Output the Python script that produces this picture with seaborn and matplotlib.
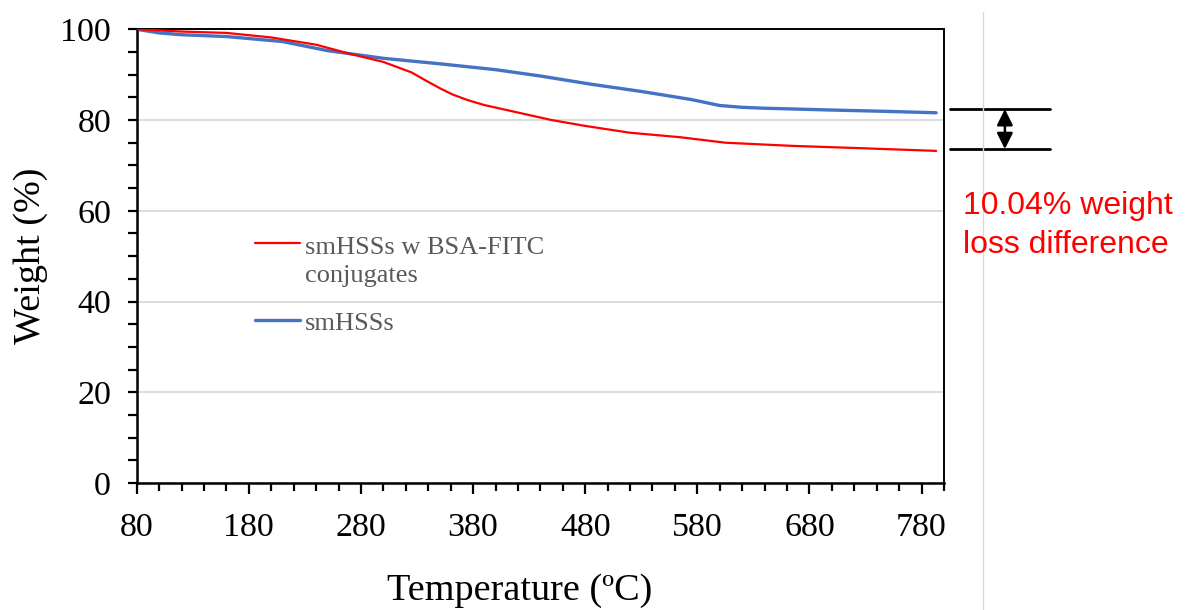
import matplotlib
matplotlib.use("Agg")
import matplotlib.pyplot as plt
import matplotlib.transforms as mtransforms
from matplotlib.lines import Line2D
from matplotlib.ticker import MultipleLocator
import pandas as pd
import seaborn as sns

# TGA curves
conj_temp = [80, 120, 160, 200, 240, 270, 300, 325, 340, 352, 362, 375, 390, 410, 450, 480, 520, 565, 605, 665, 725, 793]
conj_wt = [100, 99.5, 99.2, 98.2, 96.6, 94.6, 92.8, 90.5, 88.4, 86.8, 85.6, 84.4, 83.3, 82.2, 80.0, 78.7, 77.2, 76.2, 75.0, 74.3, 73.8, 73.2]

bare_temp = [80, 100, 120, 160, 210, 250, 300, 350, 400, 440, 485, 530, 575, 600, 620, 640, 700, 750, 793]
bare_wt = [100, 99.2, 98.8, 98.4, 97.3, 95.3, 93.6, 92.4, 91.1, 89.7, 87.9, 86.3, 84.5, 83.2, 82.8, 82.6, 82.2, 81.9, 81.6]

labels = ["smHSSs w BSA-FITC\nconjugates", "smHSSs"]
gap_levels = [82.4, 73.6]
gap_text = "10.04% weight\nloss difference"

sns.set_style("ticks")
plt.rcParams["font.family"] = ["Liberation Serif", "DejaVu Serif"]
plt.rcParams["text.color"] = "black"
plt.rcParams["axes.labelcolor"] = "black"

conj = pd.DataFrame({"Temperature": conj_temp, "Weight": conj_wt})
bare = pd.DataFrame({"Temperature": bare_temp, "Weight": bare_wt})

fig = plt.figure(figsize=(11.85, 6.10), dpi=100)
ax = fig.add_axes([0.1154, 0.2082, 0.6812, 0.7438])

sns.lineplot(data=conj, x="Temperature", y="Weight", ax=ax, color="#FF0000", lw=1.6, zorder=3)
sns.lineplot(data=bare, x="Temperature", y="Weight", ax=ax, color="#4472C4", lw=2.4, zorder=2)

ax.set_xlim(80, 800)
ax.set_ylim(0, 100)
ax.set_xticks(range(80, 781, 100))
ax.set_yticks(range(0, 101, 20))
ax.xaxis.set_minor_locator(MultipleLocator(20))
ax.yaxis.set_minor_locator(MultipleLocator(5))
ax.yaxis.grid(True, color="#D9D9D9", lw=1.3)
ax.set_axisbelow(True)

for s in ax.spines.values():
    s.set_visible(True)
    s.set_color("black")
    s.set_linewidth(1.4)
ax.spines["left"].set_linewidth(1.8)
ax.spines["bottom"].set_linewidth(1.8)

ax.tick_params(axis="both", which="both", direction="out", color="black", width=1.6,
               labelsize=24.5, labelcolor="black", pad=12)
ax.tick_params(axis="x", which="major", length=8)
ax.tick_params(axis="x", which="minor", length=5.5)
ax.tick_params(axis="y", which="both", length=6.5)
ax.tick_params(axis="x", which="major", pad=13)

ax.set_xlabel("Temperature (ºC)", fontsize=27.5, color="black")
ax.set_ylabel("Weight (%)", fontsize=27.5, color="black", labelpad=9)
ax.xaxis.set_label_coords(0.474, -0.20)

# legend, Excel style: key at the first line of the label
for lab, col, lw, yk, yb in [(labels[0], "#FF0000", 1.6, 0.529, 0.442),
                             (labels[1], "#4472C4", 2.4, 0.359, 0.337)]:
    ax.add_line(Line2D([0.1465, 0.2023], [yk, yk], transform=ax.transAxes, color=col, lw=lw))
    ax.text(0.2085, yb, lab, transform=ax.transAxes, fontsize=19, color="#595959",
            va="baseline", ha="left", linespacing=1.38)

# bracket showing the weight loss gap, outside the axes
tr = mtransforms.blended_transform_factory(fig.transFigure, ax.transData)
for lvl in gap_levels:
    ax.add_line(Line2D([0.8017, 0.8861], [lvl, lvl], transform=tr, color="black",
                       lw=2, clip_on=False))
ax.annotate("", xy=(0.848, gap_levels[1]), xycoords=tr, xytext=(0.848, gap_levels[0]),
            textcoords=tr, annotation_clip=False,
            arrowprops=dict(arrowstyle="<|-|>", color="black", lw=1.8,
                            mutation_scale=24, shrinkA=0, shrinkB=0))
fig.text(0.8127, 0.5852, gap_text, color="#FF0000", fontsize=23,
         family=["Liberation Sans", "DejaVu Sans"], va="baseline", ha="left", linespacing=1.4)

# thin slide divider at the right
fig.add_artist(Line2D([0.8295, 0.8295], [0.0, 0.98], transform=fig.transFigure,
                      color="#D9D9D9", lw=1))

fig.savefig("out.png", dpi=100)
